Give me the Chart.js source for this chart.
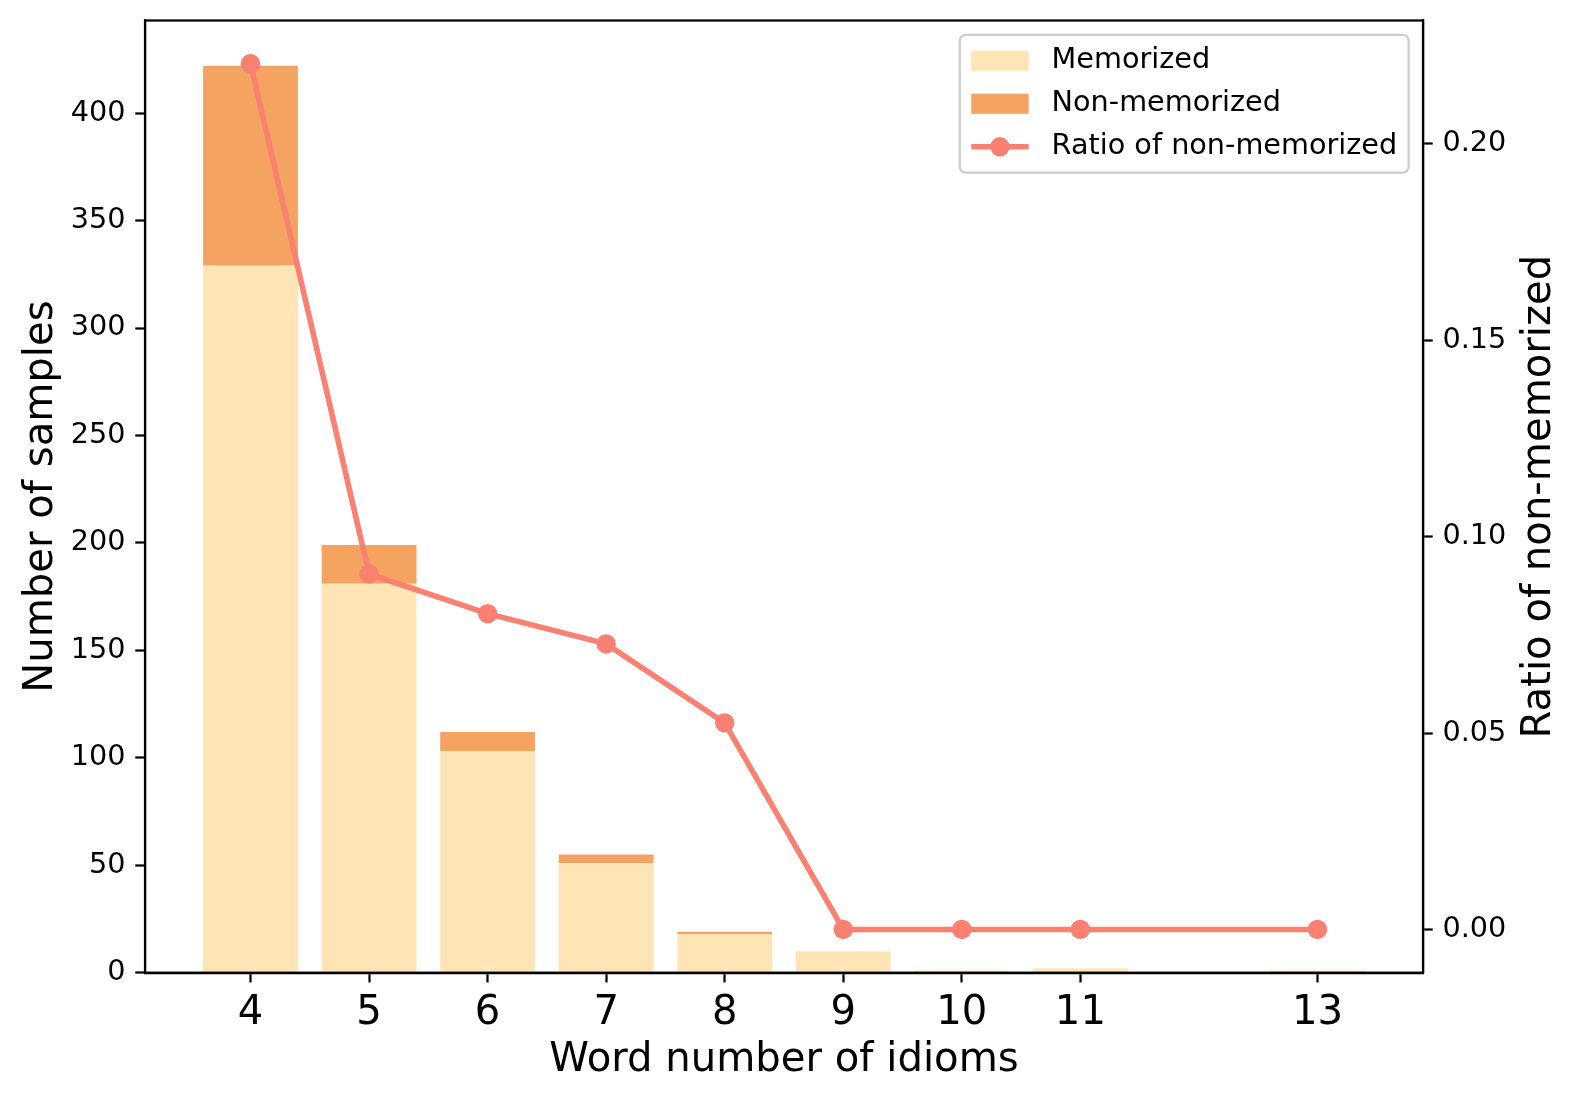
<!DOCTYPE html>
<html>
<head>
<meta charset="utf-8">
<script src="https://cdn.jsdelivr.net/npm/chart.js@4/dist/chart.umd.min.js"></script>
<style>
  html, body { margin: 0; padding: 0; background: #fff; }
  #wrap { width: 1578px; height: 1103px; position: relative; }
</style>
</head>
<body>
<div id="wrap"><canvas id="idiomChart"></canvas></div>
<script>
// word counts on the x axis
const wordCounts = [4, 5, 6, 7, 8, 9, 10, 11, 13];
const memorized = [329, 181, 103, 51, 18, 10, 1, 2, 1];
const nonMemorized = [93, 18, 9, 4, 1, 0, 0, 0, 0];
const ratioNonMem = [0.2204, 0.0905, 0.0804, 0.0727, 0.0526, 0, 0, 0, 0];

const xTicks = [4, 5, 6, 7, 8, 9, 10, 11, 13];
const leftTicks = [0, 50, 100, 150, 200, 250, 300, 350, 400];
const rightTicks = [0, 0.05, 0.10, 0.15, 0.20];

const FONT = '"DejaVu Sans", sans-serif';
const pt = 200 / 72; // px per point
const fpt = pt * 1.033; // text comes out a touch larger in the original

Chart.defaults.font.family = FONT;
Chart.defaults.color = '#000';

function toXY(vals) {
  return wordCounts.map((c, i) => ({ x: c, y: vals[i] }));
}

// legend box + box spines + right axis title
const extras = {
  id: 'extras',
  afterDraw(chart) {
    const { ctx, chartArea } = chart;
    ctx.save();

    // full frame round the axes
    ctx.strokeStyle = '#000';
    ctx.lineWidth = 0.8 * pt;
    ctx.strokeRect(chartArea.left, chartArea.top, chartArea.right - chartArea.left, chartArea.bottom - chartArea.top);

    // right axis title, reads bottom to top
    ctx.font = (14 * fpt) + 'px ' + FONT;
    ctx.fillStyle = '#000';
    ctx.textAlign = 'center';
    ctx.textBaseline = 'middle';
    ctx.translate(1540, (chartArea.top + chartArea.bottom) / 2);
    ctx.rotate(-Math.PI / 2);
    ctx.fillText('Ratio of non-memorized', 0, 0);
    ctx.setTransform(1, 0, 0, 1, 0, 0);

    // legend
    const fs = 10 * fpt;
    ctx.font = fs + 'px ' + FONT;
    const ds = chart.data.datasets;
    const items = [ds[1], ds[2], ds[0]];
    const textW = Math.max(...items.map(d => ctx.measureText(d.label).width));
    const pad = 0.4 * fs, hl = 2 * fs, htp = 0.8 * fs, ls = 0.5 * fs, bap = 0.5 * fs;
    const w = pad * 2 + hl + htp + textW;
    const h = pad * 2 + items.length * fs + (items.length - 1) * ls;
    const x0 = chartArea.right - bap - w;
    const y0 = chartArea.top + bap;

    ctx.beginPath();
    ctx.roundRect(x0, y0, w, h, 0.2 * fs);
    ctx.fillStyle = 'rgba(255,255,255,0.8)';
    ctx.fill();
    ctx.strokeStyle = '#cccccc';
    ctx.lineWidth = 0.8 * pt;
    ctx.stroke();

    items.forEach((d, i) => {
      const cy = y0 + pad + i * (fs + ls) + fs / 2;
      const hx = x0 + pad;
      if (d.type === 'line') {
        ctx.strokeStyle = d.borderColor;
        ctx.lineWidth = d.borderWidth;
        ctx.beginPath();
        ctx.moveTo(hx, cy);
        ctx.lineTo(hx + hl, cy);
        ctx.stroke();
        ctx.fillStyle = d.pointBackgroundColor;
        ctx.beginPath();
        ctx.arc(hx + hl / 2, cy, d.pointRadius, 0, Math.PI * 2);
        ctx.fill();
      } else {
        ctx.fillStyle = d.backgroundColor;
        ctx.fillRect(hx, cy - 0.35 * fs, hl, 0.7 * fs);
      }
      ctx.fillStyle = '#000';
      ctx.textAlign = 'left';
      ctx.textBaseline = 'middle';
      ctx.fillText(d.label, hx + hl + htp, cy);
    });

    ctx.restore();
  }
};

const tickGrid = { drawOnChartArea: false, offset: false, tickLength: 3.5 * pt, tickWidth: 0.8 * pt, tickColor: '#000' };
const axisBorder = { color: '#000', width: 0.8 * pt };

new Chart(document.getElementById('idiomChart'), {
  type: 'bar',
  data: {
    datasets: [
      {
        type: 'line',
        label: 'Ratio of non-memorized',
        data: toXY(ratioNonMem),
        yAxisID: 'y2',
        borderColor: '#FA8072',
        borderWidth: 2 * pt,
        pointBackgroundColor: '#FA8072',
        pointBorderWidth: 0,
        pointRadius: 3.5 * pt,
        tension: 0,
        order: 0
      },
      {
        label: 'Memorized',
        data: toXY(memorized),
        backgroundColor: '#FFE4B5',
        borderWidth: 0,
        stack: 'a',
        yAxisID: 'y',
        order: 1
      },
      {
        label: 'Non-memorized',
        data: toXY(nonMemorized),
        backgroundColor: '#F4A460',
        borderWidth: 0,
        stack: 'a',
        yAxisID: 'y',
        order: 1
      }
    ]
  },
  options: {
    responsive: true,
    maintainAspectRatio: false,
    animation: false,
    layout: { padding: { top: 20.5, left: 0, right: 0, bottom: 0 } },
    datasets: {
      bar: { barPercentage: 0.8, categoryPercentage: 1.0 }
    },
    plugins: {
      legend: { display: false },
      tooltip: { enabled: false }
    },
    scales: {
      x: {
        type: 'linear',
        min: 3.11,
        max: 13.89,
        offset: false,
        afterBuildTicks: s => { s.ticks = xTicks.map(v => ({ value: v })); },
        afterFit: s => { s.height = 130.3; s.paddingLeft = 0; s.paddingRight = 0; },
        grid: tickGrid,
        border: axisBorder,
        ticks: { font: { size: 14 * fpt }, color: '#000', padding: 7, maxRotation: 0, autoSkip: false },
        title: { display: true, text: 'Word number of idioms', font: { size: 14 * fpt }, color: '#000', padding: { top: 18, bottom: 18 } }
      },
      y: {
        position: 'left',
        stacked: true,
        min: 0,
        max: 443.1,
        afterBuildTicks: s => { s.ticks = leftTicks.map(v => ({ value: v })); },
        afterFit: s => { s.width = 145; s.paddingTop = 0; s.paddingBottom = 0; },
        grid: tickGrid,
        border: axisBorder,
        ticks: { font: { size: 10 * fpt }, color: '#000', padding: 3.5 * pt },
        title: { display: true, text: 'Number of samples', font: { size: 14 * fpt }, color: '#000', padding: { top: 17, bottom: 17 } }
      },
      y2: {
        position: 'right',
        min: -0.011,
        max: 0.2314,
        afterBuildTicks: s => { s.ticks = rightTicks.map(v => ({ value: v })); },
        afterFit: s => { s.width = 155; s.paddingTop = 0; s.paddingBottom = 0; },
        grid: tickGrid,
        border: axisBorder,
        ticks: { font: { size: 10 * fpt }, color: '#000', padding: 3.5 * pt, callback: v => v.toFixed(2) }
      }
    }
  },
  plugins: [extras]
});
</script>
</body>
</html>
